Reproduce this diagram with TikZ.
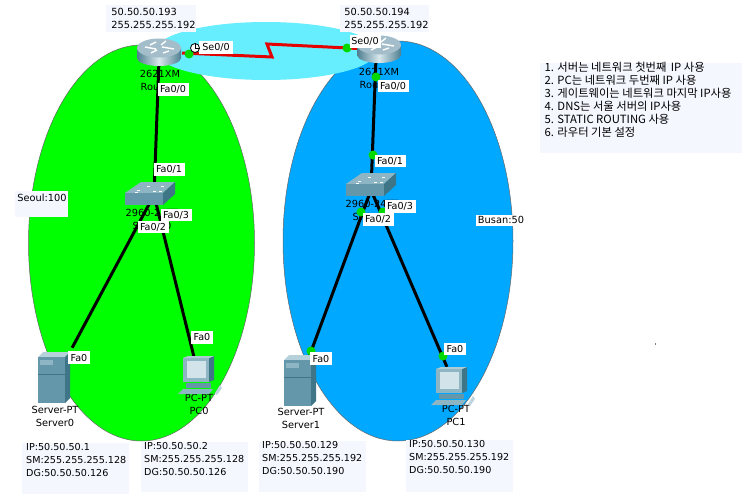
\documentclass[tikz,border=0pt]{standalone}
\usepackage{fontspec}
\setmainfont{DejaVu Sans}
\newfontfamily\krfont{Noto Sans CJK KR}
\definecolor{boxbg}{HTML}{F5F7FF}
\definecolor{devA}{HTML}{6497A9}
\definecolor{devB}{HTML}{8DB5C3}
\definecolor{devC}{HTML}{3E7688}
\definecolor{devD}{HTML}{D3E3EA}
\definecolor{zonegreen}{HTML}{00FF00}
\definecolor{zoneblue}{HTML}{00A8FF}
\definecolor{zonecyan}{HTML}{66EEFF}
\definecolor{rtdark}{HTML}{4F7F90}
\definecolor{rtlight}{HTML}{D8E7EC}
\definecolor{rttop}{HTML}{A3BECA}
\tikzset{
  zone/.style={draw=black!60,line width=0.5pt},
  lbl/.style={font=\fontsize{9.8}{13}\selectfont,inner sep=0pt,text=black,align=center},
  port/.style={font=\fontsize{9.6}{11}\selectfont,fill=white,inner sep=0pt,text=black,minimum height=12.5pt,minimum width=31pt},
  port0/.style={port,minimum width=22pt},
  info/.style={font=\fontsize{9.6}{13}\selectfont,inner sep=0pt,anchor=north west,align=left,text=black,text depth=0pt},
  panel/.style={fill=boxbg,draw=none},
  anch/.style={inner sep=0pt,minimum size=0pt},
  cable/.style={line width=3pt,black},
  serial/.style={line width=3pt,red!90!black},
  dot/.style={circle,fill=green!85!black,draw=none,minimum size=9pt,inner sep=0pt},
  routericon/.pic={
    \shade[left color=rtdark,right color=rtdark,middle color=rtlight] (-22,-4) rectangle (22,6);
    \shade[left color=rtdark,right color=rtdark,middle color=rtlight] (0,6) ellipse [x radius=22pt,y radius=8pt];
    \fill[rttop] (0,-4) ellipse [x radius=22pt,y radius=9.5pt];
    \draw[white,line width=1.4pt] (-14,-5) -- (-3,-3) (3,-5) -- (15,-3) (-3,-10) -- (-9,-7) (4,1) -- (10,-1) (7,-11)--(2,-7) (-8,1)--(-2,-2);
  },
  switchicon/.pic={
    \fill[devB] (0,11) -- (16,0) -- (50,0) -- (38,11) -- cycle;
    \fill[devA] (0,11) rectangle (38,23);
    \fill[devC] (38,11) -- (50,0) -- (50,12) -- (38,23) -- cycle;
    \foreach \a/\b in {12/8,22/4,36/4,28/9,10/10,34/9}{\fill[white] (\a,\b) rectangle ++(3,1.2);}
  },
  servericon/.pic={
    \fill[devD!60!devB] (0,5) -- (5,0) -- (32,0) -- (27,5) -- cycle;
    \fill[devA] (0,5) rectangle (27,51);
    \fill[devC] (27,5) -- (32,0) -- (32,46) -- (27,51) -- cycle;
    \fill[devB] (2,8) rectangle (15,13);
    \draw[devC,line width=0.5pt] (0,22) -- (27,22);
  },
  pcicon/.pic={
    \fill[devB] (0,0) rectangle (26,24);
    \fill[devC] (26,0) -- (31,-2) -- (31,22) -- (26,24) -- cycle;
    \fill[devB!70!white] (0,0) -- (5,-2) -- (31,-2) -- (26,0) -- cycle;
    \fill[devD] (4,3) rectangle (23,20);
    \fill[devA] (3,25) rectangle (28,30);
    \fill[devB] (-5,36) -- (0,31) -- (30,31) -- (26,36) -- cycle;
    \fill[devD!70!devB] (32,35) -- (37,27) -- (39,30) -- (34,37) -- cycle;
  },
}
\begin{document}
\begin{tikzpicture}[x=1pt,y=-1pt]
\path[use as bounding box,fill=white] (0,0) rectangle (755,498);
% zones
\fill[zone,fill=zonegreen] (141.5,243) ellipse [x radius=113pt,y radius=198pt];
\fill[zone,fill=zoneblue] (398,241) ellipse [x radius=115pt,y radius=200pt];
\fill[zone,fill=zonecyan,draw=none] (266,51) ellipse [x radius=111pt,y radius=29pt];
% panels
\fill[panel] (106,5) rectangle (196,32);
\fill[panel] (340,5) rectangle (429,32);
\fill[panel] (22,443) rectangle (129,494);
\fill[panel] (141,442) rectangle (248,492);
\fill[panel] (259,441) rectangle (366,492);
\fill[panel] (406,440) rectangle (513,492);
\fill[panel] (540,63) rectangle (742,153);
\fill[panel] (15,191) rectangle (68,217);
\fill[white] (476,215) rectangle (527,226);
% device texts
\node[lbl] (tr0) at (160,80) {2621XM\\Router0};
\node[lbl] (tr1) at (379,78) {2621XM\\Router1};
\node[lbl] (ts0) at (152,219) {2960-24TT\\Switch0};
\node[lbl] (ts1) at (372,210) {2960-24TT\\Switch1};
\node[lbl] (tv0) at (55,416.5) {Server-PT\\Server0};
\node[lbl] (tp0) at (199,404.5) {PC-PT\\PC0};
\node[lbl] (tv1) at (301,418.5) {Server-PT\\Server1};
\node[lbl] (tp1) at (456,415.5) {PC-PT\\PC1};
% anchors of the devices
\node[anch] (r0) at (159,60) {};
\node[anch] (r1) at (376,58) {};
\node[anch] (sw0) at (154,195) {};
\node[anch] (sw1) at (371,190) {};
\node[anch] (sv0) at (72,348) {};
\node[anch] (sv1) at (309,357) {};
\node[anch] (pc0) at (194,357) {};
\node[anch] (pc1) at (447,367) {};
\node[anch] (sa) at (182,53) {};
\node[anch] (sb) at (272,57) {};
\node[anch] (sc) at (267,44) {};
\node[anch] (sd) at (358,48.5) {};
% links
\draw[cable] (r0) -- (sw0);
\draw[cable] (r1) -- (sw1);
\draw[cable] (sw0) -- (sv0);
\draw[cable] (sw0) -- (pc0);
\draw[cable] (sw1) -- (sv1);
\draw[cable] (sw1) -- (pc1);
\draw[serial] (sa.center) -- (sb.center) -- (sc.center) -- (sd.center);
% icons
\pic at (159,52) {routericon};
\pic at (379,49) {routericon};
\pic at (125,182) {switchicon};
\pic at (346,173) {switchicon};
\pic at (38,352) {servericon};
\pic at (284,355) {servericon};
\pic at (183,358) {pcicon};
\pic at (436,369) {pcicon};
% link lights
\node[dot] (d1) at (189,54) {};
\node[dot] (d2) at (347,48) {};
\node[dot] (d3) at (376,77) {};
\node[dot] (d4) at (373,155) {};
\node[dot] (d5) at (361,212) {};
\node[dot] (d6) at (383,212) {};
\node[dot] (d7) at (311,351) {};
\node[dot] (d8) at (443,356) {};
% port labels
\node[port] (pa) at (173,89.5) {Fa0/0};
\node[port] (pb) at (393,86) {Fa0/0};
\node[port] (pc) at (169,169.5) {Fa0/1};
\node[port] (pd) at (390,161) {Fa0/1};
\node[port] (pe) at (176,215) {Fa0/3};
\node[port] (pf) at (400,206.5) {Fa0/3};
\node[port] (pg) at (153,227) {Fa0/2};
\node[port] (ph) at (378,219.5) {Fa0/2};
\node[port0] (pi) at (79,357.5) {Fa0};
\node[port0] (pj) at (202,337.5) {Fa0};
\node[port0] (pk) at (321,358.5) {Fa0};
\node[port0] (pl) at (455,349) {Fa0};
\node[port,minimum width=34pt] (pm) at (216,47.5) {Se0/0};
\node[port] (pn) at (365,41.5) {Se0/0};
% clock
\node[circle,draw=black,fill=white,line width=0.8pt,minimum size=9pt,inner sep=0pt] (clk) at (195,48) {};
\draw[black,line width=0.6pt] (clk.center) -- (clk.north) (clk.center) -- (clk.east);
% address panels
\node[lbl,align=left] (ta) at (153.5,18.5) {50.50.50.193\\255.255.255.192};
\node[lbl,align=left] (tb) at (386.5,18.5) {50.50.50.194\\255.255.255.192};
\node[info] (ia) at (26,443) {IP:50.50.50.1\\SM:255.255.255.128\\DG:50.50.50.126};
\node[info] (ib) at (144,442) {IP:50.50.50.2\\SM:255.255.255.128\\DG:50.50.50.126};
\node[info] (ic) at (262,441) {IP:50.50.50.129\\SM:255.255.255.192\\DG:50.50.50.190};
\node[info] (id) at (409,440) {IP:50.50.50.130\\SM:255.255.255.192\\DG:50.50.50.190};
\node[lbl] (za) at (42,197.5) {Seoul:100};
\node[lbl] (zb) at (501,220) {Busan:50};
\node[info,font=\krfont\fontsize{11.3}{13}\selectfont] (nt) at (544.5,62) {1. 서버는 네트워크 첫번째 \,IP 사용\\2. PC는 네트워크 두번째 IP 사용\\3. 게이트웨이는 네트워크 마지막 IP사용\\4. DNS는 서울 서버의 IP사용\\5. STATIC ROUTING 사용\\6. 라우터 기본 설정};
\fill[black!50] (655,343) rectangle (656,345);
\end{tikzpicture}
\end{document}
